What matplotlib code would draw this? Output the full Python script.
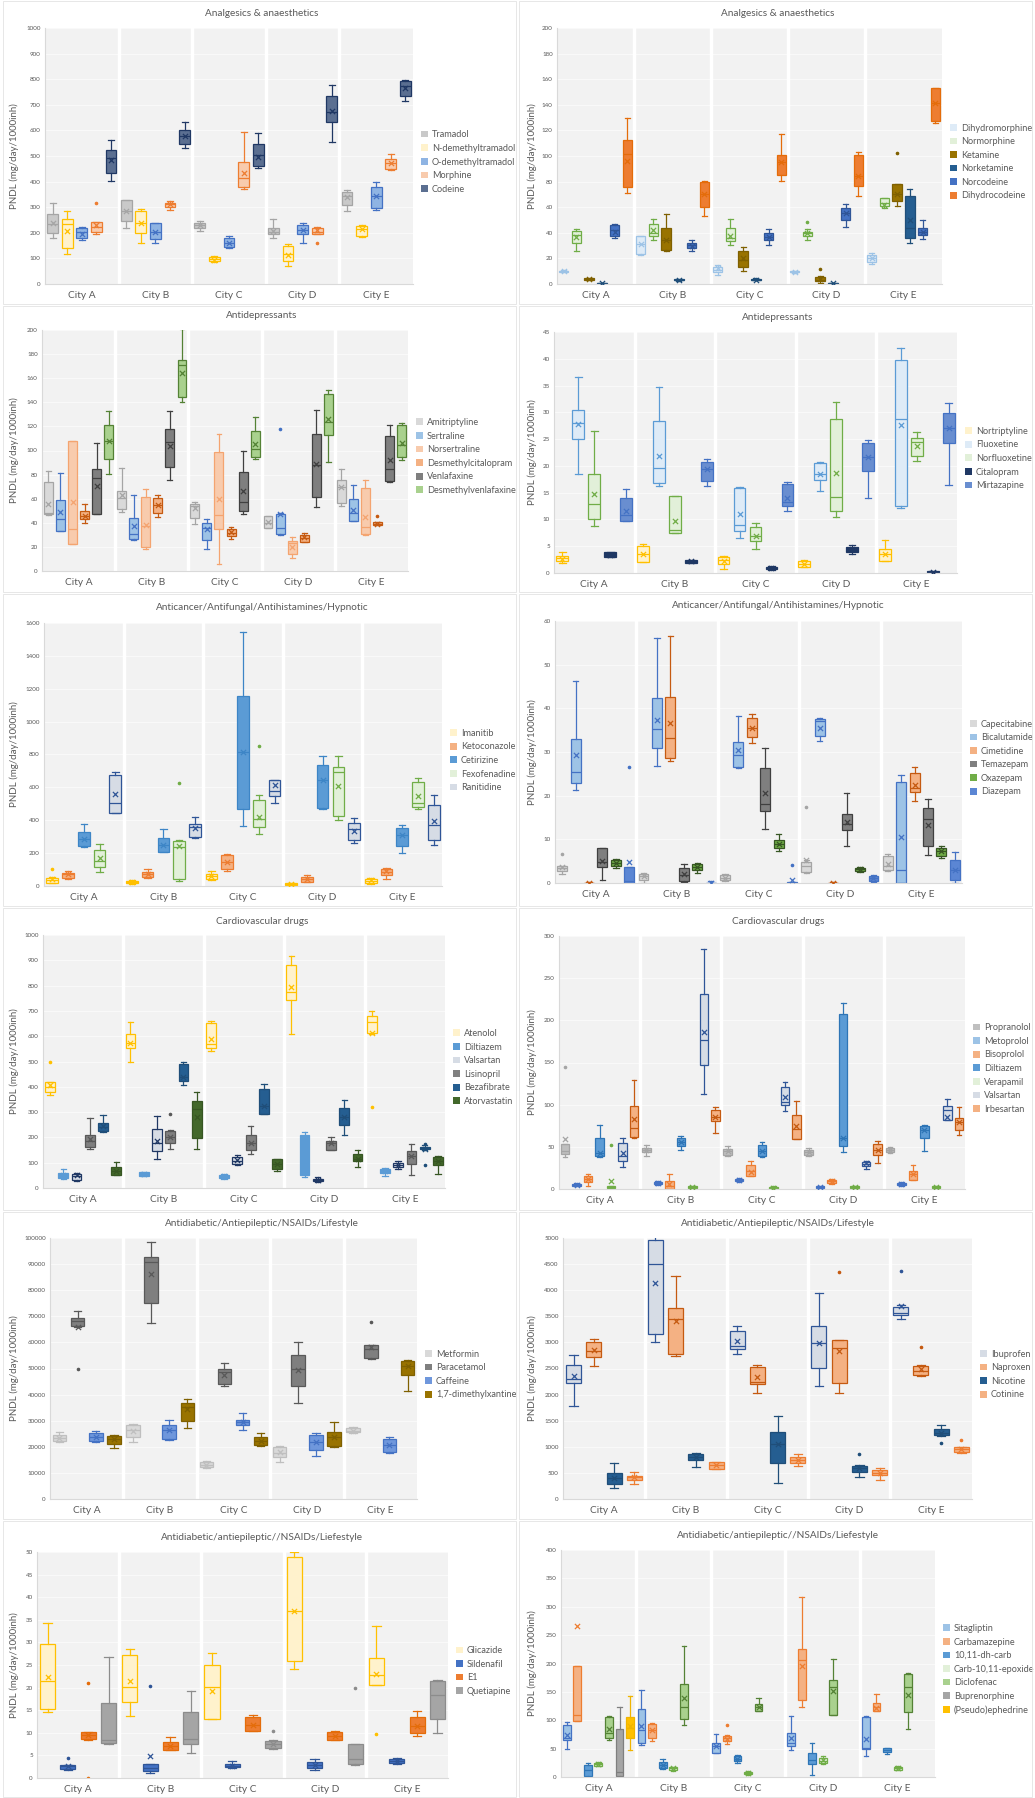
import matplotlib
matplotlib.use("Agg")
import matplotlib.pyplot as plt
from matplotlib.patches import Patch, Rectangle

plt.rcParams['font.family'] = ['Lato', 'DejaVu Sans']

W, H = 1035, 1798
GREY = '#595959'
cities = ['City A', 'City B', 'City C', 'City D', 'City E']

# each entry: [whisker low, q1, median, q3, whisker high, mean, (outliers)]; None = no box

# --- Analgesics & anaesthetics (left) ---
an1_names = ['Tramadol', 'N-demethyltramadol', 'O-demethyltramadol', 'Morphine', 'Codeine']
an1_colors = [('#c9c9c9', '#a5a5a5'), ('#fff2cc', '#ffc000'), ('#8fb4e3', '#4472c4'),
              ('#f8cbad', '#ed7d31'), ('#5b6f91', '#203864')]
an1_stats = [
    [[180, 198, 235, 272, 318, 238], [219, 245, 284, 329, 329, 284], [206, 217, 230, 240, 245, 230],
     [181, 195, 204, 219, 255, 208], [285, 307, 343, 361, 368, 339]],
    [[117, 142, 236, 253, 285, 208], [161, 199, 239, 285, 292, 239], [85, 88, 97, 105, 108, 95],
     [70, 88, 118, 150, 158, 115], [182, 186, 213, 226, 232, 213]],
    [[173, 178, 204, 219, 223, 197], [161, 175, 204, 239, 239, 204], [142, 146, 159, 181, 188, 159],
     [161, 197, 210, 232, 240, 210], [290, 297, 342, 378, 400, 342]],
    [[194, 204, 222, 242, 242, 232, [317]], [288, 301, 311, 317, 323, 311], [372, 378, 414, 477, 594, 435],
     [195, 195, 204, 217, 221, 210, [161]], [445, 449, 472, 488, 507, 471]],
    [[404, 434, 493, 524, 563, 484], [532, 548, 578, 601, 631, 578], [455, 462, 503, 545, 588, 497],
     [555, 632, 671, 733, 778, 675], [713, 735, 774, 794, 797, 765]],
]

# --- Analgesics & anaesthetics (right) ---
an2_names = ['Dihydromorphine', 'Normorphine', 'Ketamine', 'Norketamine', 'Norcodeine', 'Dihydrocodeine']
an2_colors = [('#deebf7', '#9dc3e6'), ('#e2f0d9', '#70ad47'), ('#997300', '#7f6000'),
              ('#255e91', '#1f4e79'), ('#4472c4', '#2f5597'), ('#ed7d31', '#e46c0a')]
an2_stats = [
    [[9, 9.5, 10, 10.5, 11, 10], [23, 23.2, 31, 37.7, 37.7, 31], [7, 9, 11, 13, 15, 12.5],
     [8.5, 9, 9.4, 10, 10.5, 9.4], [16, 17, 20, 23, 24, 20.5]],
    [[26, 32.3, 38.2, 41.5, 42.6, 36.9], [34.3, 37.7, 40, 46.5, 51.1, 42], [30.5, 33.5, 35.6, 43.9, 51.1, 37.4],
     [34.3, 37.4, 39.5, 40.8, 42.6, 39.5, [48.5]], [59.6, 60.6, 63.2, 67, 67, 62]],
    [[3, 3.5, 4, 4.5, 5, 4], [25.8, 26.6, 34.3, 43.4, 55, 34.3], [10, 13, 19, 26, 29, 20],
     [1, 2, 3.5, 5.5, 6, 4, [12]], [60.9, 64.5, 70.5, 78.2, 78.2, 70.5, [102.2]]],
    [[0, 0.3, 0.5, 0.8, 1, 0.5], [2.5, 2.8, 3.1, 3.6, 4, 3.1], [3, 3.2, 3.5, 4, 4.5, 3.5],
     [0, 0.3, 0.5, 0.8, 1, 0.5], [31.7, 36.1, 43.9, 68.4, 74.3, 50]],
    [[35.6, 37.7, 42, 45.9, 47.2, 41], [26, 28.4, 30.5, 32.3, 34.3, 30], [30.5, 34.3, 36.4, 39.5, 42.6, 36.4],
     [44.6, 49.8, 55.5, 59.4, 62.7, 55.5], [35.1, 38.2, 40.8, 43.9, 50.3, 40.8]],
    [[71, 75.6, 101.4, 112.5, 129.8, 96], [53, 60, 70, 80, 80.8, 70], [80.3, 85.4, 95, 100.6, 117.4, 95],
     [68.4, 76.9, 84.6, 100.6, 103.2, 84.6], [126, 127.2, 141.4, 153, 153, 141.4]],
]

# --- Antidepressants (left) ---
ad1_names = ['Amitriptyline', 'Sertraline', 'Norsertraline', 'Desmethylcitalopram', 'Venlafaxine',
             'Desmethylvenlafaxine']
ad1_colors = [('#d9d9d9', '#a5a5a5'), ('#9dc3e6', '#4472c4'), ('#f8cbad', '#f4a470'),
              ('#f4b183', '#c55a11'), ('#7f7f7f', '#404040'), ('#a9d18e', '#548235')]
ad1_stats = [
    [[46.3, 46.9, 48, 73.7, 82.8, 56], [49.1, 51.6, 60.7, 66.2, 85.5, 62.9], [39.4, 44.1, 54, 56, 57.1, 52.4],
     [35.3, 35.9, 40, 46, 46, 40.6], [53.8, 56.6, 69.5, 75.9, 85, 69.5]],
    [[33.1, 33.1, 43.3, 59.3, 81.4, 48.8], [25.4, 26.8, 30.9, 44.1, 62.9, 37.2], [18.5, 25.9, 36, 40, 42.8, 34.5],
     [29.5, 30.9, 35.3, 47.4, 48.3, 47.4, [118]], [41.4, 41.9, 48.3, 59.9, 71.2, 51]],
    [[22.1, 22.1, 35, 107.6, 108, 57.1], [17.9, 20.1, 37, 61.2, 68.1, 37.8], [5.5, 34.5, 46.1, 98.5, 113.7, 59.9],
     [11, 14.3, 22.9, 24.8, 28.4, 20.1], [29.5, 30.3, 36.7, 69, 75.9, 44.7]],
    [[40, 42.8, 45.5, 50.2, 55.7, 46], [45, 48.3, 54.6, 60.7, 63.4, 54.6], [26.8, 29, 31.7, 34.5, 36.4, 32.3],
     [24.3, 24.3, 27.6, 29.8, 31.7, 28.1], [38, 38, 39.4, 40.6, 40.6, 39.4, [45.5]]],
    [[46.9, 46.9, 77.2, 84.7, 106.2, 70.3], [75.9, 86, 106.8, 118, 133, 104], [47.7, 49.7, 57.1, 81.9, 99.3, 66.2],
     [53, 61.2, 88.3, 113.7, 133.2, 88.8], [73.9, 75, 84.7, 111.7, 120.8, 91.9]],
    [[80.6, 93, 107.6, 121.4, 132.4, 107.6], [140.1, 144.8, 171, 175.2, 201, 164.7],
     [93, 94.6, 101.2, 115.9, 127.7, 105.4], [90.2, 113.1, 123.6, 146.8, 149.8, 126.3],
     [92.4, 94.6, 104.8, 120.8, 122.8, 106.2]],
]

# --- Antidepressants (right) ---
ad2_names = ['Nortriptyline', 'Fluoxetine', 'Norfluoxetine', 'Citalopram', 'Mirtazapine']
ad2_colors = [('#fff2cc', '#ffc000'), ('#deebf7', '#5b9bd5'), ('#e2f0d9', '#70ad47'),
              ('#203864', '#1f3864'), ('#698ed0', '#4472c4')]
ad2_stats = [
    [[1.9, 2.2, 2.8, 3.2, 3.9, 2.6], [2.1, 2.1, 3.5, 5.1, 5.4, 3.5], [0.75, 1.7, 2.5, 2.9, 3.2, 2.3],
     [1.1, 1.2, 1.6, 2.2, 2.4, 1.7], [2.2, 2.2, 3.6, 4.5, 6.1, 3.6]],
    [[18.5, 25.1, 28, 30.4, 36.6, 27.8], [16.2, 16.8, 19.6, 28.3, 34.8, 21.9], [6.5, 7.8, 9, 15.9, 16, 11],
     [15.4, 17.4, 18.5, 20.5, 20.7, 18.5], [12.1, 12.6, 28.8, 39.8, 42.1, 27.6]],
    [[8.8, 10.1, 12.8, 18.5, 26.6, 14.8], [7.5, 7.5, 8.1, 14.4, 14.4, 9.8], [4.5, 5.9, 7, 8.5, 9.3, 7],
     [10.4, 11.5, 14.2, 28.7, 32, 18.7], [21, 21.8, 24.5, 25.2, 26.3, 23.8]],
    [[3, 3, 3.4, 3.9, 4, 3.4], [1.9, 1.9, 2.2, 2.4, 2.5, 2.2], [0.6, 0.75, 0.9, 1.1, 1.25, 0.9],
     [3.6, 3.9, 4.4, 4.8, 5.2, 4.4], [0.1, 0.1, 0.2, 0.3, 0.4, 0.2]],
    [[9.8, 9.8, 10.9, 14, 15.7, 11.5], [16.3, 17.2, 19.5, 20.8, 21.2, 19.5], [11.6, 12.6, 13.2, 16.6, 17, 14],
     [14, 19, 21.7, 24.3, 24.9, 21.7], [16.5, 24.3, 27.1, 29.9, 31.7, 27.1]],
]

# --- Anticancer/Antifungal/Antihistamines/Hypnotic (left) ---
ac1_names = ['Imanitib', 'Ketoconazole', 'Cetirizine', 'Fexofenadine', 'Ranitidine']
ac1_colors = [('#fff2cc', '#ffc000'), ('#f4b183', '#ed7d31'), ('#5b9bd5', '#3d85c6'),
              ('#e2f0d9', '#70ad47'), ('#d6dce5', '#2f5597')]
ac1_stats = [
    [[16, 20, 37, 47, 57, 41, [102]], [10, 16, 24, 30, 37, 24], [35, 45, 61, 71, 91, 61],
     [0, 4, 10, 16, 20, 10], [10, 16, 30, 45, 51, 35]],
    [[45, 51, 71, 81, 91, 71], [51, 57, 71, 85, 106, 71], [91, 102, 146, 187, 193, 146],
     [24, 26, 41, 57, 65, 41], [41, 65, 85, 106, 112, 91]],
    [[240, 244, 285, 329, 376, 285], [207, 207, 250, 289, 346, 250], [366, 468, 813, 1153, 1545, 813],
     [468, 472, 646, 738, 789, 646], [203, 244, 309, 352, 370, 309]],
    [[85, 118, 152, 220, 254, 173], [30, 45, 238, 274, 279, 244, [626]], [319, 356, 407, 525, 553, 421, [850]],
     [400, 423, 691, 726, 789, 610], [468, 478, 504, 634, 657, 545]],
    [[443, 447, 502, 677, 691, 559], [289, 301, 356, 380, 421, 350], [502, 545, 579, 646, 646, 614],
     [260, 279, 346, 386, 411, 335], [250, 279, 370, 494, 553, 396]],
]

# --- Anticancer/Antifungal/Antihistamines/Hypnotic (right) ---
ac2_names = ['Capecitabine', 'Bicalutamide', 'Cimetidine', 'Temazepam', 'Oxazepam', 'Diazepam']
ac2_colors = [('#d9d9d9', '#a5a5a5'), ('#9dc3e6', '#4472c4'), ('#f4b183', '#c55a11'),
              ('#7f7f7f', '#404040'), ('#70ad47', '#375623'), ('#5b86d4', '#4472c4')]
ac2_stats = [
    [[2, 2.7, 3.4, 3.9, 4, 3.7, [6.7]], [0.1, 0.8, 1.5, 2.1, 2.4, 1.5], [0.4, 0.6, 1.1, 1.8, 2, 1.1],
     [2.3, 2.5, 4, 4.8, 5.2, 5.3, [17.4]], [2.7, 2.9, 3.9, 6.1, 6.7, 4.3]],
    [[21.2, 23, 25.4, 32.9, 46.3, 29.4], [26.8, 30.9, 35.2, 42.4, 56.1, 37.3], [26.4, 26.6, 29.2, 32.3, 38.2, 30.4],
     [32.5, 33.7, 37.1, 37.5, 37.8, 35.6], [0, 0, 2.9, 23.1, 24.7, 10.5]],
    [[0, 0, 0, 0.1, 0.2, 0], [27.9, 28.6, 33.1, 42.7, 56.6, 36.7], [32.1, 33.4, 35.5, 37.8, 38.6, 35.5],
     [0, 0, 0, 0.1, 0.2, 0], [18.7, 20.8, 21.8, 25.2, 26.6, 22.5]],
    [[0.8, 3.7, 4.7, 8, 8.1, 5], [0.2, 0.4, 1.9, 3.5, 4.3, 2.1], [12.4, 16.6, 18, 26.4, 31, 20.5],
     [8.5, 12.1, 13.6, 15.7, 20.7, 14], [6.5, 8.4, 14.6, 17.2, 19.2, 13.2]],
    [[3.5, 4, 4.6, 5.2, 5.4, 4.6], [2.4, 2.9, 3.7, 4.3, 4.6, 3.7], [7.3, 8, 9, 9.9, 11.3, 9],
     [2.5, 2.7, 3.1, 3.4, 3.7, 3.1], [5.7, 6.1, 7.3, 8, 8.4, 7.3]],
    [[0, 0.1, 0.4, 3.7, 3.7, 4.7, [26.6]], [0, 0, 0.05, 0.1, 0.4, 0.1], [0, 0, 0.05, 0.2, 0.2, 0.6, [4.2]],
     [0.2, 0.4, 1.2, 1.6, 1.8, 1.2], [0, 0.6, 3, 5.3, 7.1, 3]],
]

# --- Cardiovascular drugs (left) ---
cv1_names = ['Atenolol', 'Diltiazem', 'Valsartan', 'Lisinopril', 'Bezafibrate', 'Atorvastatin']
cv1_colors = [('#fff2cc', '#ffc000'), ('#5b9bd5', '#5b9bd5'), ('#d6dce5', '#203864'),
              ('#808080', '#595959'), ('#255e91', '#1f4e79'), ('#43682b', '#375623')]
cv1_stats = [
    [[366, 378, 401, 417, 418, 408, [497]], [497, 553, 572, 608, 658, 572], [543, 555, 568, 654, 662, 588],
     [609, 743, 776, 882, 918, 793], [608, 614, 658, 680, 700, 614, [320]]],
    [[37, 39, 50, 59, 76, 50], [46, 49, 55, 62, 63, 55], [37, 39, 46, 53, 57, 46],
     [42, 50, 65, 208, 220, 65], [46, 59, 66, 76, 79, 66]],
    [[26, 33, 46, 55, 59, 50], [114, 147, 178, 233, 286, 187], [92, 96, 105, 121, 129, 112],
     [24, 26, 30, 36, 42, 30], [76, 82, 89, 99, 105, 89]],
    [[154, 164, 184, 211, 276, 195], [155, 178, 200, 224, 228, 200, [292]], [136, 151, 178, 208, 246, 178],
     [151, 151, 178, 187, 200, 178], [53, 95, 125, 145, 175, 125]],
    [[220, 226, 243, 257, 287, 247], [408, 424, 437, 489, 500, 437], [293, 293, 325, 391, 411, 325],
     [208, 250, 280, 316, 349, 280], [150, 155, 160, 163, 168, 155, [175, 92]]],
    [[50, 50, 66, 82, 103, 66], [155, 197, 312, 342, 379, 280], [68, 76, 95, 114, 114, 95],
     [82, 108, 116, 136, 149, 116], [57, 92, 108, 122, 125, 108]],
]

# --- Cardiovascular drugs (right) ---
cv2_names = ['Propranolol', 'Metoprolol', 'Bisoprolol', 'Diltiazem', 'Verapamil', 'Valsartan', 'Irbesartan']
cv2_colors = [('#bfbfbf', '#a5a5a5'), ('#9dc3e6', '#4472c4'), ('#f4b183', '#ed7d31'),
              ('#5b9bd5', '#2e75b6'), ('#e2f0d9', '#70ad47'), ('#d6dce5', '#2f5597'), ('#f4b183', '#c55a11')]
cv2_stats = [
    [[37.6, 42, 45.5, 53.4, 53.4, 59.4, [144.8]], [39.6, 43.5, 46.7, 48.7, 52.6, 46.7],
     [38.8, 40.8, 44.7, 47.9, 51.4, 44.7], [39.6, 40.8, 43.5, 46.7, 48.7, 43.5], [42.7, 43.9, 45.9, 48.7, 49.5, 45.9]],
    [[3.2, 4, 5.1, 6.3, 7.1, 5.1], [5.1, 5.9, 7.1, 8.3, 9.1, 7.1], [8.3, 9.1, 10.3, 11.9, 13.1, 10.3],
     [0, 1.2, 2, 3.2, 4, 2], [3.2, 4.4, 5.9, 7.1, 7.9, 5.9]],
    [[3.2, 8.3, 11.9, 15, 18.2, 11.9], [0, 0, 4, 9.1, 17.8, 5.9], [15, 15, 21, 28.1, 32.8, 19.8],
     [6.3, 7.1, 9.1, 11.1, 11.9, 9.1], [10.3, 11.1, 17.8, 21, 28.1, 17.8]],
    [[37.6, 39.6, 42.7, 60.5, 76.4, 42.7], [45.9, 50.7, 55.4, 60.5, 62.5, 55.4], [37.6, 38.8, 44.7, 52.6, 55.8, 44.7],
     [43.5, 50.7, 60.5, 207, 220, 60.5], [44.7, 60.5, 70, 75.2, 76.4, 70]],
    [[1.2, 1.2, 2, 3.2, 4, 9.1, [51.8]], [0, 1.2, 2, 3.2, 4, 2], [0, 0.4, 1.2, 2.4, 4, 1.2],
     [0, 1.2, 2, 3.2, 4, 2], [0, 1.2, 2, 3.2, 4, 2]],
    [[25.7, 33.6, 39.6, 54.6, 60.5, 42.7], [112.8, 146.8, 176.5, 230.7, 284.9, 186],
     [92.2, 99.3, 102.9, 120.7, 127, 108.8], [23.7, 26.9, 29.7, 31.7, 32.8, 30.9], [81.5, 81.5, 93.4, 98.9, 107.2, 85.5]],
    [[60.5, 61.3, 72.4, 98.9, 129, 83.5], [66.5, 80.3, 85.1, 93.4, 97.3, 85.1], [59.4, 59.4, 71.2, 88.2, 104, 74.4],
     [30.9, 40.8, 46.7, 53.8, 57.4, 46.7], [64.5, 69.6, 79.5, 84.3, 97, 79.5]],
]

# --- Antidiabetic/Antiepileptic/NSAIDs/Lifestyle (left) ---
ls1_names = ['Metformin', 'Paracetamol', 'Caffeine', '1,7-dimethylxantine']
ls1_colors = [('#d9d9d9', '#bfbfbf'), ('#7f7f7f', '#595959'), ('#6f97dc', '#4472c4'), ('#997300', '#7f6000')]
ls1_stats = [
    [[21700, 22300, 23200, 24500, 25800, 23200], [22000, 23900, 26400, 28300, 28700, 26200],
     [11900, 12100, 13000, 14000, 14700, 13000], [14300, 16200, 17600, 20000, 20400, 17900],
     [25300, 25500, 26200, 27100, 27500, 26200]],
    [[66000, 66400, 68300, 69200, 72100, 66000, [50000]], [67400, 75100, 90900, 92600, 98300, 86200],
     [43400, 44100, 48500, 50000, 52100, 47500], [36600, 43400, 50000, 55300, 60000, 49400],
     [53600, 54000, 57500, 59100, 59100, 58100, [67700]]],
    [[22000, 22300, 23900, 25200, 26200, 23900], [22600, 23000, 26400, 28300, 30300, 26400],
     [26600, 28500, 29600, 30400, 32900, 29600], [16600, 18800, 21700, 24500, 25300, 21700],
     [17500, 18100, 20500, 23000, 23900, 20500]],
    [[19400, 21100, 23000, 24300, 24600, 23000], [27100, 30000, 35100, 36600, 38300, 34500],
     [20400, 20700, 22300, 23900, 25300, 22300], [20000, 20200, 23600, 25800, 29600, 23600],
     [41500, 47500, 51100, 52700, 53300, 51100]],
]

# --- Antidiabetic/Antiepileptic/NSAIDs/Lifestyle (right) ---
ls2_names = ['Ibuprofen', 'Naproxen', 'Nicotine', 'Cotinine']
ls2_colors = [('#d6dce5', '#2f5597'), ('#f4b183', '#c55a11'), ('#255e91', '#1f4e79'), ('#f4b183', '#ed7d31')]
ls2_stats = [
    [[1786, 2226, 2290, 2564, 2768, 2353], [3010, 3170, 4496, 4956, 5051, 4139], [2774, 2864, 2934, 3214, 3310, 3023],
     [2162, 2519, 2979, 3316, 3948, 2998], [3457, 3521, 3572, 3680, 3712, 3693, [4369]]],
    [[2551, 2711, 2832, 3010, 3074, 2851], [2736, 2787, 3457, 3661, 4267, 3412], [2035, 2200, 2232, 2532, 2564, 2328],
     [2035, 2226, 2896, 3042, 3042, 2838, [4350]], [2354, 2373, 2456, 2545, 2564, 2500, [2915]]],
    [[204, 287, 395, 491, 695, 395], [606, 746, 797, 861, 874, 797], [313, 682, 1046, 1288, 1588, 1046],
     [415, 510, 600, 638, 650, 600, [861]], [1205, 1225, 1256, 1333, 1416, 1256, [1065]]],
    [[287, 364, 415, 446, 510, 415], [568, 574, 650, 702, 714, 650], [638, 682, 746, 797, 861, 746],
     [364, 459, 491, 555, 600, 491], [874, 906, 957, 989, 1001, 957, [1129]]],
]

# --- Antidiabetic/antiepileptic//NSAIDs/Liefestyle (left) ---
lf1_names = ['Glicazide', 'Sildenafil', 'E1', 'Quetiapine']
lf1_colors = [('#fff2cc', '#ffc000'), ('#4472c4', '#2f5597'), ('#ed7d31', '#e46c0a'), ('#a5a5a5', '#8c8c8c')]
lf1_stats = [
    [[14.7, 15.3, 21.5, 29.6, 34.2, 22.4], [13.8, 16.9, 20.2, 27.2, 28.5, 21.5], [13, 13, 20.1, 25.1, 27.6, 19.3],
     [24.1, 25.9, 36.9, 48.9, 49.9, 36.9], [20.6, 20.6, 22.8, 26.6, 33.7, 22.9, [9.7]]],
    [[1.8, 2, 2.6, 2.9, 2.9, 2.6, [4.4]], [1, 1.5, 2.2, 3.1, 3.1, 4.8, [20.4]], [2.2, 2.4, 2.7, 3.1, 3.7, 2.7],
     [1.7, 2.2, 2.8, 3.5, 4.2, 2.9], [3.2, 3.3, 3.7, 4.2, 4.4, 3.7]],
    [[8.5, 8.6, 9.6, 10.1, 10.1, 9.6, [21.1, 0.1]], [6.3, 6.3, 7.1, 7.9, 9, 7.1], [10.3, 10.3, 11.8, 13.5, 14, 11.8],
     [8.5, 8.5, 9.3, 10.1, 10.5, 9.3], [9.2, 9.9, 11.5, 13.6, 14.9, 11.5]],
    [[7.5, 7.7, 8.5, 16.7, 26.8, None], [5.5, 7.5, 8.6, 14.7, 19.3, None], [6.5, 6.6, 7.5, 8.1, 8.3, 7.5, [10.4]],
     [2.8, 3.1, 4.2, 7.5, 7.5, None, [20]], [9.9, 13, 18.4, 21.5, 21.7, None]],
]

# --- Antidiabetic/antiepileptic//NSAIDs/Liefestyle (right) ---
lf2_names = ['Sitagliptin', 'Carbamazepine', '10,11-dh-carb', 'Carb-10,11-epoxide', 'Diclofenac',
             'Buprenorphine', '(Pseudo)ephedrine']
lf2_colors = [('#9dc3e6', '#4472c4'), ('#f4b183', '#ed7d31'), ('#5b9bd5', '#2e75b6'), ('#e2f0d9', '#70ad47'),
              ('#a9d18e', '#548235'), ('#a5a5a5', '#7f7f7f'), ('#ffc000', '#f0b400')]
lf2_stats = [
    [[48.8, 64.7, 68.8, 91, 97, 73.5], [57, 60.6, 82.4, 120.6, 153, 90], [42.9, 42.9, 55, 60.6, 76.5, 54.7],
     [48.2, 54.1, 60, 77.6, 107.6, 68.8], [36.5, 50, 51.8, 106, 107, 66.5]],
    [[98.2, 98.2, 108.8, 196, 196, 265.9], [63.5, 68.8, 82.4, 94, 95.3, 82.4], [58.8, 63.5, 68.8, 72.4, 73.5, 67.6, [91.2]],
     [123.5, 136.5, 207, 225.3, 316.5, 196], [115.9, 115.9, 123, 130.6, 145.9, 121.8]],
    [[0, 1.2, 12, 21.8, 24.7, None], [14.7, 15.9, 21.8, 26.5, 31.2, 21.8], [24.7, 27.6, 32.4, 37, 39.4, 32.4],
     [4.1, 22.4, 30, 42.9, 60.6, None], [40, 44.1, 48, 51.2, 51.8, None]],
    [[18.8, 19.4, 22.4, 25.3, 26.5, 23.5], [10, 12, 15, 17, 18, 15], [4.1, 4.7, 7.1, 8.8, 10, 7.1],
     [23.5, 24.7, 28.2, 34, 37, 30.6], [11.8, 12.9, 15.9, 17.6, 18.8, 15.9]],
    [[64.7, 69.4, 78.2, 106, 107, 85.3], [92.4, 102.9, 123.5, 164.7, 231, 139.4], [115.9, 115.9, 123.5, 129.4, 139.4, 123.5],
     [110, 110, 158.8, 171.8, 208.8, 151.8], [85.3, 114.7, 158.8, 181.2, 182.4, 145.3]],
    [[0, 1.2, 8, 84.1, 123.5, None], None, None, None, None],
    [[47, 69.4, 86, 106, 142.4, 90], None, None, None, None],
]

# panel layout in pixels: (left, right, top, bottom), title y
panels = [
    ('Analgesics & anaesthetics', an1_names, an1_stats, an1_colors, 1000, 100, (45, 413, 28, 284), 14),
    ('Analgesics & anaesthetics', an2_names, an2_stats, an2_colors, 200, 20, (557, 942, 28, 284), 14),
    ('Antidepressants', ad1_names, ad1_stats, ad1_colors, 200, 20, (42, 408, 330, 571), 316),
    ('Antidepressants', ad2_names, ad2_stats, ad2_colors, 45, 5, (554, 957, 332, 573), 317),
    ('Anticancer/Antifungal/Antihistamines/Hypnotic', ac1_names, ac1_stats, ac1_colors, 1600, 200,
     (44, 442, 623, 886), 608),
    ('Anticancer/Antifungal/Antihistamines/Hypnotic', ac2_names, ac2_stats, ac2_colors, 60, 10,
     (555, 962, 621, 883), 606),
    ('Cardiovascular drugs', cv1_names, cv1_stats, cv1_colors, 1000, 100, (43, 445, 935, 1188), 921),
    ('Cardiovascular drugs', cv2_names, cv2_stats, cv2_colors, 300, 50, (559, 965, 936, 1189), 921),
    ('Antidiabetic/Antiepileptic/NSAIDs/Lifestyle', ls1_names, ls1_stats, ls1_colors, 100000, 10000,
     (50, 417, 1238, 1499), 1223),
    ('Antidiabetic/Antiepileptic/NSAIDs/Lifestyle', ls2_names, ls2_stats, ls2_colors, 5000, 500,
     (563, 972, 1238, 1499), 1224),
    ('Antidiabetic/antiepileptic//NSAIDs/Liefestyle', lf1_names, lf1_stats, lf1_colors, 50, 5,
     (37, 448, 1552, 1778), 1537),
    ('Antidiabetic/antiepileptic//NSAIDs/Liefestyle', lf2_names, lf2_stats, lf2_colors, 400, 50,
     (561, 935, 1550, 1777), 1535),
]

# chart frames (top, bottom) per row
row_frames = [(1, 304), (306, 592), (594, 906), (908, 1210), (1212, 1519), (1521, 1797)]

fig = plt.figure(figsize=(W / 100, H / 100), dpi=100)
fig.patch.set_facecolor('white')

for k, (title, names, stats, colors, ymax, ystep, (L, R, T, B), ty) in enumerate(panels):
    col = k % 2
    ft, fb = row_frames[k // 2]
    fx0 = 3 if col == 0 else 519
    fig.patches.append(Rectangle((fx0 / W, 1 - fb / H), 513 / W, (fb - ft) / H, transform=fig.transFigure,
                                 facecolor='none', edgecolor='#e3e3e3', lw=0.6, zorder=0))

    ax = fig.add_axes([L / W, 1 - B / H, (R - L) / W, (B - T) / H])
    ax.set_facecolor('#f2f2f2')
    ax.set_xlim(0.5, 5.5)
    ax.set_ylim(0, ymax)
    ticks = list(range(0, ymax + 1, ystep))
    ax.set_yticks(ticks)
    ax.set_yticklabels([str(t) for t in ticks])
    for t in ticks[1:]:
        ax.axhline(t, color='#fbfbfb', lw=0.6, zorder=0.5)
    for b in [1.5, 2.5, 3.5, 4.5]:
        ax.axvline(b, color='white', lw=2.4, zorder=1)
    ax.set_xticks(range(1, 6))
    ax.set_xticklabels(cities, fontsize=7.3, color=GREY)
    ax.tick_params(axis='x', length=0, pad=5)
    ax.tick_params(axis='y', length=0, labelsize=4.5, labelcolor=GREY, pad=3)
    for s in ['top', 'right']:
        ax.spines[s].set_visible(False)
    for s in ['left', 'bottom']:
        ax.spines[s].set_color('#d9d9d9')
        ax.spines[s].set_linewidth(0.8)

    n = len(names)
    slot = 0.99 / n
    bw = slot * 0.74
    for j, (ser, (fc, ec)) in enumerate(zip(stats, colors)):
        pos, st, mx, my = [], [], [], []
        for i, e in enumerate(ser):
            if e is None:
                continue
            x = i + 1 + (j - (n - 1) / 2) * slot
            st.append(dict(whislo=e[0], q1=e[1], med=e[2], q3=e[3], whishi=e[4],
                           fliers=e[6] if len(e) > 6 else []))
            pos.append(x)
            if e[5] is not None:
                mx.append(x)
                my.append(e[5])
        ax.bxp(st, positions=pos, widths=bw, capwidths=bw * 0.55, patch_artist=True, showfliers=True,
               manage_ticks=False,
               boxprops=dict(facecolor=fc, edgecolor=ec, lw=0.9),
               medianprops=dict(color=ec, lw=0.9),
               whiskerprops=dict(color=ec, lw=0.9),
               capprops=dict(color=ec, lw=0.9),
               flierprops=dict(marker='o', ms=1.6, mfc=ec, mec=ec, lw=0))
        ax.scatter(mx, my, marker='x', s=14, c=ec, linewidths=0.9, zorder=4)

    handles = [Patch(facecolor=fc, edgecolor='none') for fc, ec in colors]
    ax.legend(handles, names, loc='center left', frameon=False, fontsize=6.6, labelcolor=GREY,
              bbox_to_anchor=((R + 8) / W, 1 - ((T + B) / 2 + 6) / H), bbox_transform=fig.transFigure,
              handlelength=0.75, handleheight=0.75, handletextpad=0.45, labelspacing=0.5, borderaxespad=0,
              borderpad=0)

    cx = 262 if col == 0 else 778
    fig.text(cx / W, 1 - ty / H, title, ha='center', va='center', fontsize=7.2, color=GREY)
    lx = 14 if col == 0 else 532
    fig.text(lx / W, 1 - ((T + B) / 2) / H, 'PNDL (mg/day/1000inh)', rotation=90, ha='center', va='center',
             fontsize=7, color=GREY)

fig.savefig('out.png', dpi=100, facecolor='white')
